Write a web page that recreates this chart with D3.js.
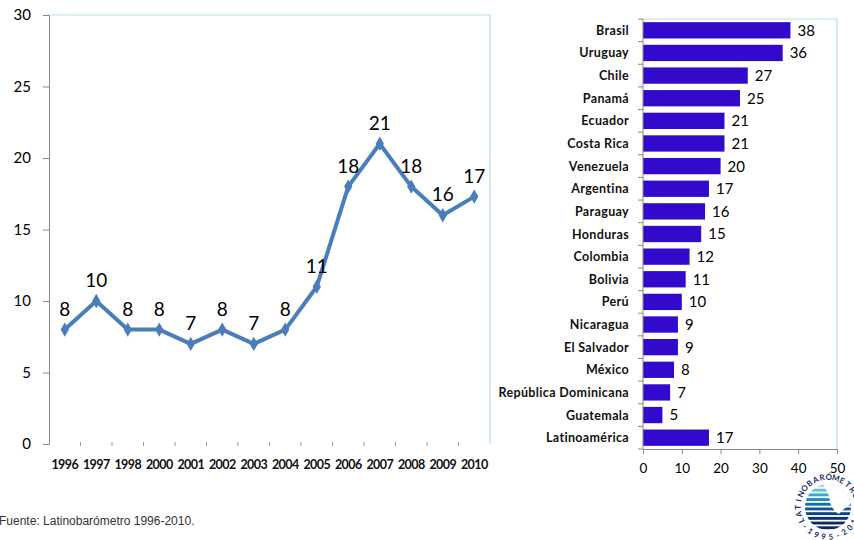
<!DOCTYPE html>
<html><head><meta charset="utf-8">
<script src="https://cdn.jsdelivr.net/npm/d3@7"></script>
<style>body{margin:0;background:#fff;}svg{display:block;}</style>
</head><body>
<svg id="c" width="854" height="540"></svg>
<script>
const years = ["1996","1997","1998","2000","2001","2002","2003","2004","2005","2006","2007","2008","2009","2010"];
const lineValues = [8,10,8,8,7,8,7,8,11,18,21,18,16,17.3];
const lineLabels = ["8","10","8","8","7","8","7","8","11","18","21","18","16","17"];
const yTicks = [0,5,10,15,20,25,30];

const countries = ["Brasil","Uruguay","Chile","Panamá","Ecuador","Costa Rica","Venezuela","Argentina","Paraguay","Honduras","Colombia","Bolivia","Perú","Nicaragua","El Salvador","México","República Dominicana","Guatemala","Latinoamérica"];
const barValues = [38,36,27,25,21,21,20,17,16,15,12,11,10,9,9,8,7,5,17];
const xTicks = [0,10,20,30,40,50];

const svg = d3.select("#c");
const defs = svg.append("defs");
const font = "Lato, 'Open Sans', sans-serif";

// ---------- Line chart ----------
const L = {x0:49, x1:490, y0:15, y1:444};
const xb = d3.scaleBand().domain(years).range([L.x0, L.x1]);
const yl = d3.scaleLinear().domain([0,30]).range([L.y1, L.y0]);

svg.append("path").attr("d",`M${L.x0},${L.y0}H${L.x1}V${L.y1}`)
  .attr("fill","none").attr("stroke","#b7dde8").attr("stroke-width",1.2);

const yAx = svg.append("g").attr("transform",`translate(${L.x0},0)`)
  .call(d3.axisLeft(yl).tickValues(yTicks).tickSize(6).tickPadding(12));
yAx.select(".domain").attr("stroke","#888");
yAx.selectAll(".tick line").attr("stroke","#888");
yAx.selectAll("text").attr("font-family",font).attr("font-size",15).attr("fill","#000");

const bounds = years.slice(1).map(y=>xb(y));
svg.append("g").selectAll("line").data(bounds).join("line")
  .attr("x1",d=>d).attr("x2",d=>d).attr("y1",L.y1-2).attr("y2",L.y1+2)
  .attr("stroke","#999");
svg.append("g").selectAll("text").data(years).join("text")
  .attr("x",d=>xb(d)+xb.bandwidth()/2).attr("y",469)
  .attr("text-anchor","middle").attr("font-family",font).attr("font-weight","bold")
  .attr("font-size",12.5).attr("letter-spacing","-0.6").attr("fill","#111").text(d=>d);

const pts = years.map((y,i)=>[xb(y)+xb.bandwidth()/2, yl(lineValues[i])]);
svg.append("path").attr("d",d3.line()(pts)).attr("fill","none")
  .attr("stroke","#4a7ebb").attr("stroke-width",4).attr("stroke-linejoin","round");
svg.append("g").selectAll("path").data(pts).join("path")
  .attr("d",d3.symbol(d3.symbolDiamond,60)()).attr("transform",d=>`translate(${d[0]},${d[1]})`)
  .attr("fill","#4a7ebb");
svg.append("g").selectAll("text").data(pts).join("text")
  .attr("x",d=>d[0]).attr("y",d=>d[1]-14)
  .attr("text-anchor","middle").attr("font-family",font).attr("font-size",19).attr("fill","#000")
  .text((d,i)=>lineLabels[i]);

// ---------- Bar chart ----------
const B = {x0:643, x1:837, y0:19, y1:449};
const xs = d3.scaleLinear().domain([0,50]).range([B.x0, B.x1]);
const yb = d3.scaleBand().domain(countries).range([B.y0, B.y1]).paddingInner(0.28).paddingOuter(0.14);

svg.append("path").attr("d",`M${B.x0},${B.y0}H${B.x1}V${B.y1}`)
  .attr("fill","none").attr("stroke","#b7dde8").attr("stroke-width",1.2);

svg.append("g").selectAll("rect").data(countries).join("rect")
  .attr("x",xs(0)).attr("y",d=>yb(d)).attr("width",(d,i)=>xs(barValues[i])-xs(0))
  .attr("height",yb.bandwidth()).attr("fill","#3309cc");
svg.append("g").selectAll("text").data(countries).join("text")
  .attr("x",(d,i)=>xs(barValues[i])+7).attr("y",d=>yb(d)+yb.bandwidth()/2)
  .attr("dy","0.36em").attr("font-family",font).attr("font-size",15).attr("fill","#000")
  .text((d,i)=>barValues[i]);

svg.append("g").selectAll("text").data(countries).join("text")
  .attr("x",629).attr("y",d=>yb(d)+yb.bandwidth()/2).attr("dy","0.36em")
  .attr("text-anchor","end").attr("font-family",font).attr("font-weight","bold")
  .attr("font-size",12.5).attr("letter-spacing","0.35").attr("fill","#111").text(d=>d);

const step = (B.y1-B.y0)/countries.length;
svg.append("line").attr("x1",B.x0).attr("x2",B.x0).attr("y1",B.y0).attr("y2",B.y1).attr("stroke","#888");
svg.append("g").selectAll("line").data(d3.range(countries.length+1)).join("line")
  .attr("x1",B.x0-5).attr("x2",B.x0).attr("y1",i=>B.y0+i*step).attr("y2",i=>B.y0+i*step).attr("stroke","#888");

const xAx = svg.append("g").attr("transform",`translate(0,${B.y1})`)
  .call(d3.axisBottom(xs).tickValues(xTicks).tickSize(5).tickPadding(9));
xAx.select(".domain").attr("stroke","#888");
xAx.selectAll(".tick line").attr("stroke","#888");
xAx.selectAll("text").attr("font-family",font).attr("font-size",13.5).attr("fill","#000");

// footer
svg.append("text").attr("x",-1).attr("y",525).attr("font-family","'Liberation Sans', Arial, sans-serif")
  .attr("font-size",12).attr("fill","#333").text("Fuente: Latinobarómetro 1996-2010.");

// ---------- logo (partially off-canvas, as in the reference) ----------
const lcx = 828, lcy = 507;
defs.append("clipPath").attr("id","lc").append("circle").attr("cx",lcx).attr("cy",lcy).attr("r",23);
const stripes = svg.append("g").attr("clip-path","url(#lc)");
const stripeCols = ["#8fd6ea","#5fc3e0","#37a9d2","#1f8cc2","#1670ad","#125897","#0e4482","#0b346f","#0a2a60","#0a2a60"];
d3.range(10).forEach(i=>{
  stripes.append("rect").attr("x",lcx-24).attr("y",lcy-23+i*4.7).attr("width",48).attr("height",2.9).attr("fill",stripeCols[i]);
});
stripes.append("path")
  .attr("d",`M${lcx-6},${lcy-24} Q${lcx+2},${lcy-13} ${lcx+2},${lcy-4} Q${lcx+6},${lcy+5} ${lcx+11},${lcy+7} Q${lcx+15},${lcy+2} ${lcx+24},${lcy-4} L${lcx+24},${lcy-24} Z`)
  .attr("fill","#fff");
const ringR = 30;
const ringTop = "LATINOBARÓMETRO".split("");
ringTop.forEach((ch,i)=>{
  const a = -117 + i*13.2;
  const r = a*Math.PI/180;
  const px = lcx+ringR*Math.sin(r), py = lcy-ringR*Math.cos(r);
  svg.append("text").attr("x",px).attr("y",py)
    .attr("transform",`rotate(${a},${px},${py})`)
    .attr("text-anchor","middle").attr("dy","0.35em").attr("font-family",font).attr("font-weight","bold")
    .attr("font-size",8).attr("fill","#1a2f6e").text(ch);
});
const ringBot = "·1995-2010".split("");
ringBot.forEach((ch,i)=>{
  const a = 230 - i*13.8;
  const r = a*Math.PI/180;
  const px = lcx+ringR*Math.sin(r), py = lcy-ringR*Math.cos(r);
  svg.append("text").attr("x",px).attr("y",py)
    .attr("transform",`rotate(${a-180},${px},${py})`)
    .attr("text-anchor","middle").attr("dy","0.35em").attr("font-family",font).attr("font-weight","bold")
    .attr("font-size",8).attr("fill","#1a2f6e").text(ch);
});
</script>
</body></html>
